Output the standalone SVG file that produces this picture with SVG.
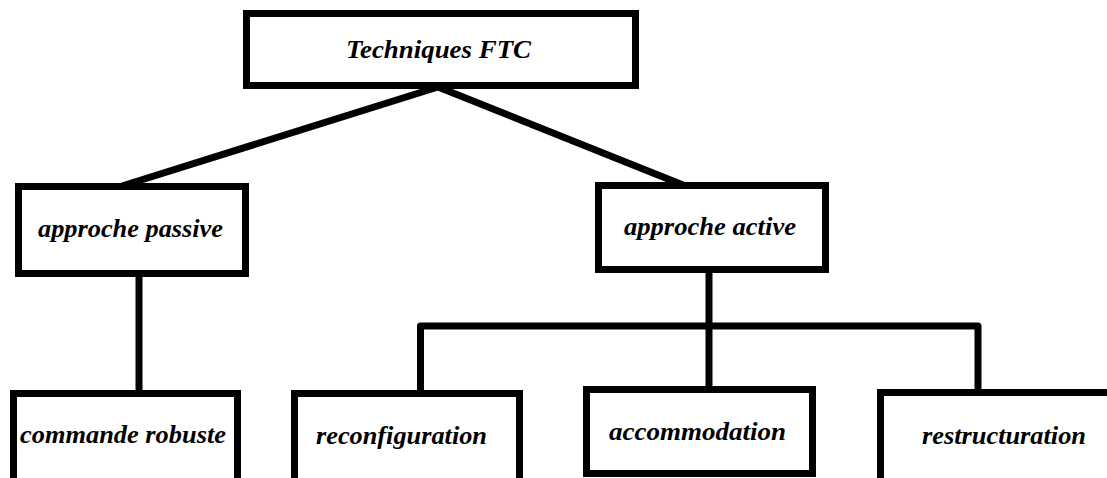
<svg xmlns="http://www.w3.org/2000/svg" width="1107" height="478" viewBox="0 0 1107 478">
<style>
.box{fill:#fff;stroke:#000;stroke-width:7}
.lbl{font-family:"Liberation Serif","Times New Roman",serif;font-weight:bold;font-style:italic;font-size:26px;fill:#000}
.con{fill:none;stroke:#000;stroke-width:7;stroke-linejoin:round}
</style>
<rect width="1107" height="478" fill="#fff"/>
<g id="connectors">
<line class="con" x1="438" y1="87" x2="122" y2="186"/>
<line class="con" x1="438" y1="87" x2="683" y2="185"/>
<line class="con" x1="139" y1="276" x2="139" y2="393"/>
<line class="con" x1="709" y1="272" x2="709" y2="389"/>
<path class="con" d="M420.5,393 V326 H978 V392"/>
</g>
<g id="node-techniques">
<rect class="box" x="246.5" y="13.5" width="389" height="72"/>
<text class="lbl" x="346" y="58" textLength="185" lengthAdjust="spacingAndGlyphs">Techniques FTC</text>
</g>
<g id="node-passive">
<rect class="box" x="18.5" y="186.5" width="227" height="87"/>
<text class="lbl" x="38" y="237" textLength="185" lengthAdjust="spacingAndGlyphs">approche passive</text>
<rect x="242" y="238" width="3" height="8" fill="#000"/>
</g>
<g id="node-active">
<rect class="box" x="598.5" y="185.5" width="227" height="84"/>
<text class="lbl" x="624" y="235" textLength="172" lengthAdjust="spacingAndGlyphs">approche active</text>
</g>
<g id="node-commande">
<rect class="box" x="13.5" y="393.5" width="224" height="100"/>
<text class="lbl" x="20" y="443" textLength="206" lengthAdjust="spacingAndGlyphs">commande robuste</text>
</g>
<g id="node-reconfiguration">
<rect class="box" x="294.5" y="393.5" width="225" height="100"/>
<text class="lbl" x="316" y="444" textLength="171" lengthAdjust="spacingAndGlyphs">reconfiguration</text>
</g>
<g id="node-accommodation">
<rect class="box" x="586.5" y="389.5" width="226" height="84"/>
<text class="lbl" x="609" y="440" textLength="177" lengthAdjust="spacingAndGlyphs">accommodation</text>
</g>
<g id="node-restructuration">
<rect class="box" x="880.5" y="392.5" width="240" height="100"/>
<text class="lbl" x="922" y="444" textLength="164" lengthAdjust="spacingAndGlyphs">restructuration</text>
</g>
</svg>
